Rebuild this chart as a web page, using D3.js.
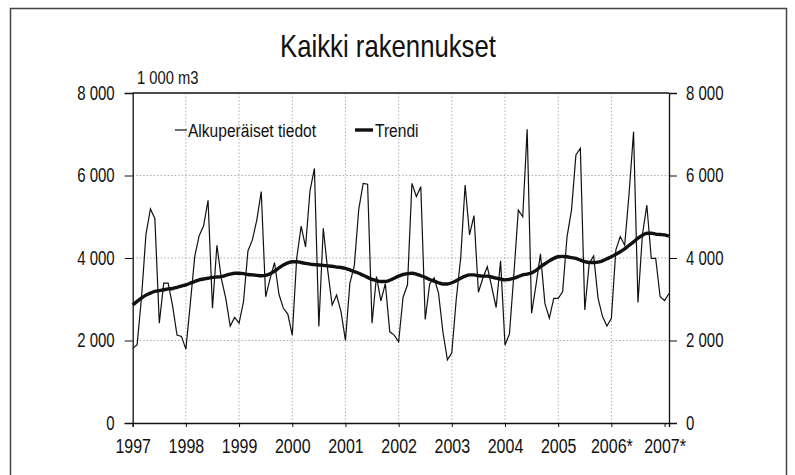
<!DOCTYPE html>
<html>
<head>
<meta charset="utf-8">
<script src="https://cdn.jsdelivr.net/npm/d3@7"></script>
<style>
  body { margin: 0; background: #fff; }
  text { font-family: "Liberation Sans", Arial, sans-serif; fill: #111; }
</style>
</head>
<body>
<svg id="chart" width="795" height="475"></svg>
<script>
// monthly values, Jan 1997 .. Feb 2007 (1 000 m3)
const original = [
  1810, 1900, 3060, 4580, 5190, 4960, 2420, 3390, 3390, 2840, 2130, 2100,
  1790, 2900, 4040, 4540, 4780, 5400, 2780, 4310, 3500, 3020, 2350, 2560,
  2420, 2940, 4170, 4440, 4920, 5610, 3060, 3500, 3890, 3120, 2780, 2640,
  2130, 3990, 4770, 4270, 5630, 6170, 2340, 4720, 3700, 2860, 3100, 2700,
  2000, 3390, 3810, 5180, 5810, 5790, 2420, 3550, 2960, 3380, 2210, 2130,
  1970, 3050, 3350, 5810, 5490, 5730, 2510, 3370, 3520, 3150, 2200, 1530,
  1700, 3000, 4000, 5770, 4560, 5030, 3170, 3510, 3790, 3300, 2800, 3930,
  1890, 2160, 3600, 5160, 5000, 7120, 2660, 3350, 4100, 2900, 2540, 3020,
  3020, 3180, 4520, 5160, 6500, 6660, 2740, 3870, 4050, 3020, 2580, 2350,
  2540, 4190, 4520, 4310, 5570, 7060, 2920, 4560, 5280, 3990, 3990, 3060,
  2970, 3140
];

const trend = [
  2860, 2950, 3030, 3100, 3150, 3190, 3210, 3230, 3250, 3260, 3290, 3320,
  3350, 3390, 3430, 3470, 3490, 3510, 3530, 3540, 3550, 3580, 3610, 3630,
  3630, 3620, 3600, 3590, 3580, 3570, 3580, 3620, 3680, 3760, 3830, 3880,
  3910, 3910, 3890, 3870, 3850, 3840, 3830, 3820, 3810, 3800, 3780, 3770,
  3750, 3710, 3670, 3630, 3580, 3530, 3480, 3450, 3430, 3430, 3460, 3510,
  3560, 3600, 3620, 3630, 3610, 3570, 3530, 3480, 3440, 3400, 3370, 3370,
  3400, 3450, 3510, 3560, 3590, 3590, 3570, 3560, 3560, 3540, 3510, 3490,
  3470, 3480, 3510, 3550, 3590, 3610, 3640, 3700, 3790, 3860, 3930, 3990,
  4030, 4040, 4030, 4010, 3990, 3950, 3910, 3890, 3890, 3900, 3930, 3980,
  4030, 4090, 4150, 4220, 4310, 4390, 4480, 4550, 4600, 4600, 4580, 4570,
  4560, 4530
];

const yearLabels = ["1997", "1998", "1999", "2000", "2001", "2002", "2003", "2004", "2005", "2006*", "2007*"];
const yTicks = [0, 2000, 4000, 6000, 8000];

const svg = d3.select("#chart");
const plotL = 132.7, plotR = 669, plotT = 93, plotB = 423;

const x = d3.scaleLinear().domain([0, original.length - 1]).range([plotL, plotR]);
const y = d3.scaleLinear().domain([0, 8000]).range([plotB, plotT]);
const fmt = d => d3.format(",")(d).replace(",", " ");

// no narrow font installed, so squeeze the regular one horizontally
function condense(sel, sx) {
  sel.each(function() {
    const t = d3.select(this);
    const x0 = +t.attr("x") || 0;
    t.attr("x", x0 / sx).attr("transform", `scale(${sx},1)`);
  });
}

// outer frame
svg.append("rect")
  .attr("x", 10.5).attr("y", 8.5).attr("width", 776).attr("height", 480)
  .attr("fill", "none").attr("stroke", "#444").attr("stroke-width", 1.5);

svg.append("text")
  .attr("x", 388).attr("y", 57)
  .attr("text-anchor", "middle")
  .style("font-size", "31px")
  .text("Kaikki rakennukset")
  .call(condense, 0.83);

svg.append("text")
  .attr("x", 137).attr("y", 84)
  .style("font-size", "18px")
  .text("1 000 m3")
  .call(condense, 0.82);

// grid
const grid = svg.append("g").attr("stroke", "#999").attr("stroke-width", 0.8).attr("stroke-dasharray", "1.5,2");
grid.selectAll("line.h").data(yTicks.slice(1, -1)).join("line")
  .attr("x1", plotL).attr("x2", plotR)
  .attr("y1", d => y(d)).attr("y2", d => y(d));
grid.selectAll("line.v").data(yearLabels.slice(1, -1)).join("line")
  .attr("x1", (d, i) => x((i + 1) * 12)).attr("x2", (d, i) => x((i + 1) * 12))
  .attr("y1", plotT).attr("y2", plotB);

// axes
const yLeft = svg.append("g").attr("transform", `translate(${plotL},0)`)
  .call(d3.axisLeft(y).tickValues(yTicks).tickFormat(fmt).tickSize(8).tickPadding(10));
const yRight = svg.append("g").attr("transform", `translate(${plotR},0)`)
  .call(d3.axisRight(y).tickValues(yTicks).tickFormat(fmt).tickSize(8).tickPadding(9));
const xAxis = svg.append("g").attr("transform", `translate(0,${plotB})`)
  .call(d3.axisBottom(x).tickValues(yearLabels.map((d, i) => i * 12))
    .tickFormat((d, i) => yearLabels[i]).tickSize(4).tickPadding(12));
[yLeft, yRight, xAxis].forEach(g => {
  g.select(".domain").attr("stroke", "#111").attr("stroke-width", 1.3);
  g.selectAll(".tick line").attr("stroke", "#111");
  g.selectAll(".tick text").style("font-size", "20px").style("font-family", null).attr("fill", "#111")
    .call(condense, g === xAxis ? 0.8 : 0.75);
});
svg.append("line").attr("x1", plotL).attr("x2", plotR).attr("y1", plotT).attr("y2", plotT)
  .attr("stroke", "#111").attr("stroke-width", 1.3);

// series
svg.append("path").datum(original)
  .attr("fill", "none").attr("stroke", "#111").attr("stroke-width", 1.2)
  .attr("d", d3.line().x((d, i) => x(i)).y(d => y(d)));
svg.append("path").datum(trend)
  .attr("fill", "none").attr("stroke", "#111").attr("stroke-width", 3.4)
  .attr("d", d3.line().curve(d3.curveMonotoneX).x((d, i) => x(i)).y(d => y(d)));

// legend
const leg = svg.append("g").style("font-size", "19px");
leg.append("line").attr("x1", 175).attr("x2", 187).attr("y1", 130).attr("y2", 130)
  .attr("stroke", "#111").attr("stroke-width", 1.2);
leg.append("text").attr("x", 188).attr("y", 137).text("Alkuperäiset tiedot").call(condense, 0.82);
leg.append("line").attr("x1", 355).attr("x2", 373).attr("y1", 130).attr("y2", 130)
  .attr("stroke", "#111").attr("stroke-width", 3.4);
leg.append("text").attr("x", 375).attr("y", 137).text("Trendi").call(condense, 0.82);
</script>
</body>
</html>
